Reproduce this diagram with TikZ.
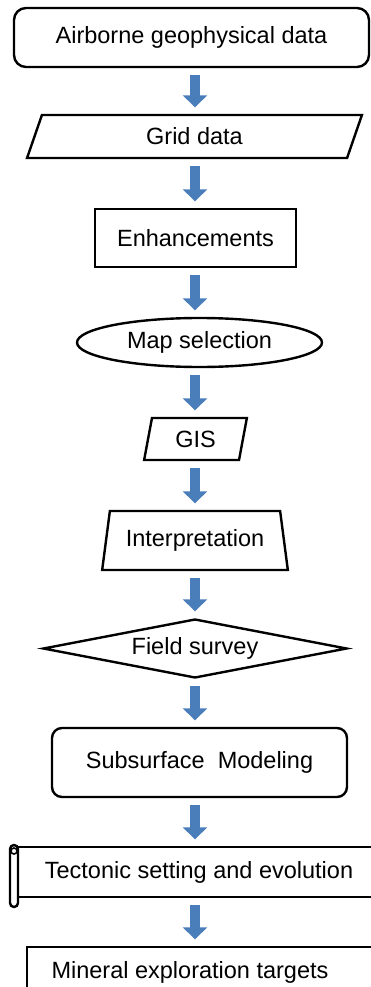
\documentclass[tikz,border=0pt]{standalone}
\usepackage{fontspec}
\setmainfont{Liberation Sans}
\usetikzlibrary{shapes.geometric}
\usetikzlibrary{arrows.meta}

\definecolor{arrowblue}{RGB}{74,126,187}

\tikzset{
  flowbox/.style={draw, line width=2.4pt, font=\fontsize{23.5}{27}\selectfont, inner sep=2pt},
  roundbox/.style={flowbox, rectangle, rounded corners=12pt},
  plainbox/.style={flowbox, rectangle},
  databox/.style={flowbox, trapezium, trapezium stretches=true},
  flowarrow/.style={line width=10pt, draw=arrowblue, -{Triangle[length=12pt,width=24pt]}, shorten <=6.5pt, shorten >=6.5pt},
}

\begin{document}
\begin{tikzpicture}[x=1pt,y=-1pt]

\useasboundingbox (0,0) rectangle (370,987);
\coordinate (axis) at (195,0);

\node (air) at(191.5,37.5) [roundbox, minimum width=355pt, minimum height=59pt] {Airborne geophysical data};

\node (grid) at(194.5,136.5) [databox, trapezium left angle=77, trapezium right angle=103, minimum width=335pt, minimum height=43pt] {Grid data};

\node (enh) at(195.5,238) [plainbox, minimum width=201pt, minimum height=58pt] {Enhancements};

\node (mapsel) at(199.5,342.5) [flowbox, ellipse, minimum width=245pt, minimum height=49pt] {Map selection};

\node (gis) at(195.5,439) [databox, trapezium left angle=79, trapezium right angle=101, minimum width=103pt, minimum height=42pt] {GIS};

\node (interp) at(195,540.5) [databox, trapezium left angle=76, trapezium right angle=76, minimum width=186pt, minimum height=59pt] {Interpretation};

\node (field) at(195,648.5) [flowbox, diamond, shape aspect=5.15, minimum width=304pt, minimum height=59pt] {Field survey};

\node (subsurf) at(199.5,762.5) [roundbox, rounded corners=10pt, minimum width=295pt, minimum height=69pt] {Subsurface\ \ Modeling};

%---------------------------------------------------------------
\node (tecto) at(199,872) [plainbox, minimum width=362pt, minimum height=50pt] {Tectonic setting and evolution};
\draw [line width=2.4pt, rounded corners=4pt, fill=white] (10,845) rectangle (18,907);
\draw [line width=1.6pt] (14,851) circle (3pt);

%---------------------------------------------------------------
\node (mineral) at(203.5,972) [plainbox, minimum width=353pt, minimum height=50pt] {};
\node (minetext) at(190,972) [font=\fontsize{23.5}{27}\selectfont] {Mineral exploration targets};

%---------------------------------------------------------------
\foreach \a/\b in {air/grid,grid/enh,enh/mapsel,mapsel/gis,gis/interp,interp/field,field/subsurf,subsurf/tecto,tecto/mineral}
  \draw [flowarrow] (\a.south -| axis) -- (\b.north -| axis);

\end{tikzpicture}
\end{document}
